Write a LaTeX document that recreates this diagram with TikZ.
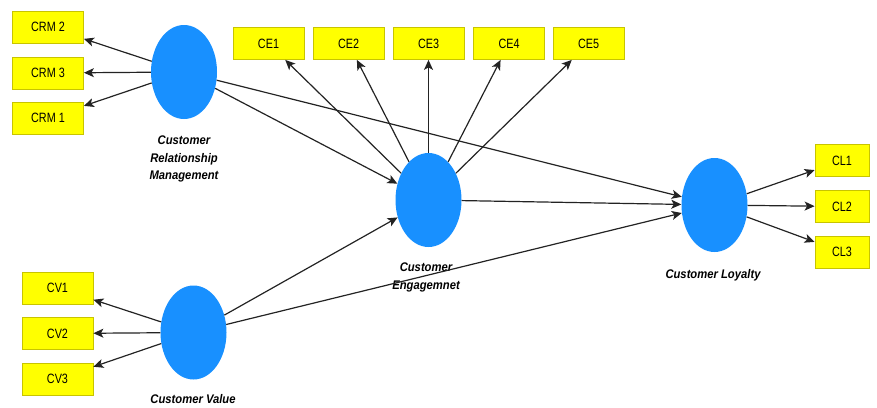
\documentclass[tikz,border=0pt]{standalone}
\usepackage{fontspec}
\usetikzlibrary{shapes.geometric,arrows.meta}
\newfontfamily\boxfont[FakeStretch=0.8]{Liberation Sans}
\newfontfamily\labfont[FakeStretch=0.9]{Liberation Sans}
\definecolor{latentblue}{RGB}{24,144,255}
\definecolor{itemyellow}{RGB}{255,255,0}
\definecolor{itemedge}{RGB}{200,196,0}
\definecolor{pathgray}{RGB}{35,35,35}
\tikzset{
  latent/.style={ellipse, fill=latentblue, draw=none, inner sep=0pt,
    minimum width=66pt, minimum height=94pt},
  item/.style={rectangle, fill=itemyellow, draw=itemedge, line width=0.8pt,
    inner sep=0pt, minimum width=71pt, minimum height=32pt,
    font=\boxfont\fontsize{13.5}{15}\selectfont},
  latlabel/.style={align=center, inner sep=0pt,
    font=\labfont\bfseries\itshape\fontsize{12.5}{17.5}\selectfont},
  path/.style={draw=pathgray, line width=1.2pt,
    -{Stealth[length=10pt,width=9pt,inset=2.5pt]}}
}
\begin{document}
\begin{tikzpicture}[x=1pt,y=-1pt]
\useasboundingbox (0,0) rectangle (877,407);

% Customer Relationship Management block
\node[item] (crm2) at (48,27) {CRM 2};
\node[item] (crm3) at (48,73) {CRM 3};
\node[item] (crm1) at (48,118) {CRM 1};
\node[latent] (crm) at (184,72) {};
\node[latlabel] (crmlab) at (184,159) {Customer\\Relationship\\Management};

% Customer Engagement block
\node[item] (ce1) at (268.5,43.5) {CE1};
\node[item] (ce2) at (348.5,43.5) {CE2};
\node[item] (ce3) at (428.5,43.5) {CE3};
\node[item] (ce4) at (509,43.5) {CE4};
\node[item] (ce5) at (588.5,43.5) {CE5};
\node[latent] (ce) at (428.5,200) {};
\node[latlabel] (celab) at (426,277.5) {Customer\\Engagemnet};

% Customer Loyalty block
\node[latent] (cl) at (714.5,205) {};
\node[item, minimum width=54pt] (cl1) at (842,160.5) {CL1};
\node[item, minimum width=54pt] (cl2) at (842,206.5) {CL2};
\node[item, minimum width=54pt] (cl3) at (842,252) {CL3};
\node[latlabel] (cllab) at (713,275) {Customer Loyalty};

% Customer Value block
\node[latent] (cv) at (193.5,332.5) {};
\node[item] (cv1) at (57.5,288) {CV1};
\node[item] (cv2) at (57.5,333.5) {CV2};
\node[item] (cv3) at (57.5,379) {CV3};
\node[latlabel] (cvlab) at (193,399.5) {Customer Value};

% measurement paths
\foreach \i in {crm2,crm3,crm1} \draw[path] (crm) -- (\i);
\foreach \i in {ce1,ce2,ce3,ce4,ce5} \draw[path] (ce) -- (\i);
\foreach \i in {cl1,cl2,cl3} \draw[path] (cl) -- (\i);
\foreach \i in {cv1,cv2,cv3} \draw[path] (cv) -- (\i);

% structural paths
\draw[path] (crm) -- (ce);
\draw[path] (crm) -- (cl);
\draw[path] (cv) -- (ce);
\draw[path] (cv) -- (cl);
\draw[path] (ce) -- (cl);
\end{tikzpicture}
\end{document}
